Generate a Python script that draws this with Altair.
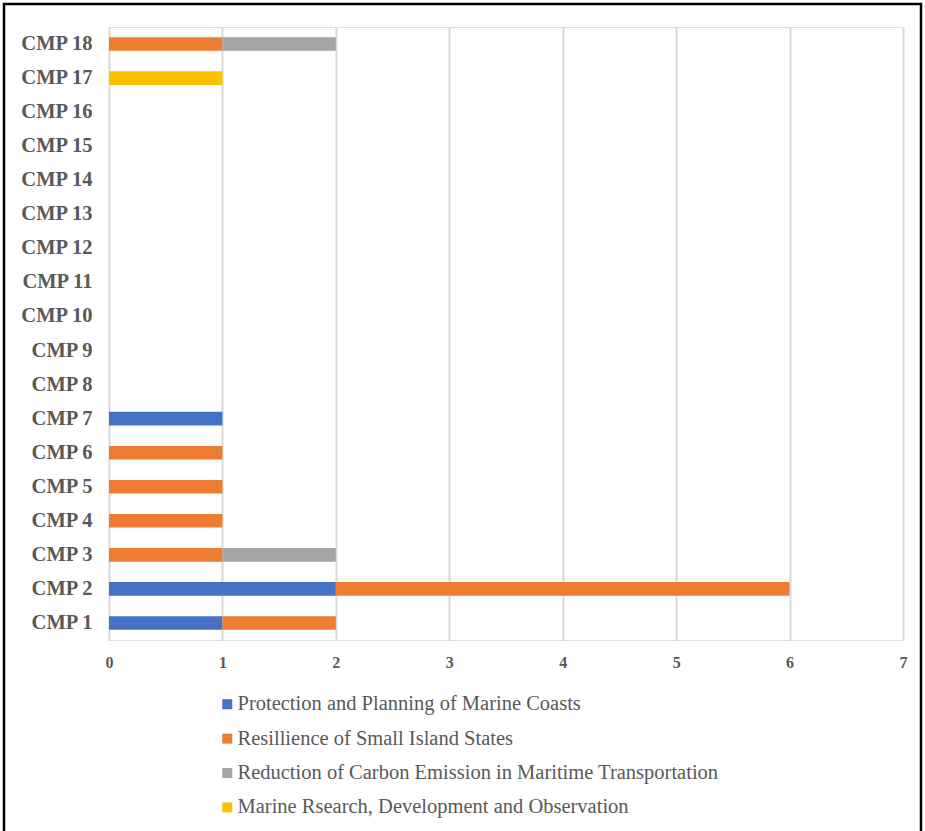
import altair as alt
import pandas as pd

categories = [f"CMP {i}" for i in range(1, 19)]
series = [
    "Protection and Planning of Marine Coasts",
    "Resillience of Small Island States",
    "Reduction of Carbon Emission in Maritime Transportation",
    "Marine Rsearch, Development and Observation",
]
colors = ["#4472C4", "#ED7D31", "#A5A5A5", "#FFC000"]

protection = [1, 2, 0, 0, 0, 0, 1, 0, 0, 0, 0, 0, 0, 0, 0, 0, 0, 0]
resilience = [1, 4, 1, 1, 1, 1, 0, 0, 0, 0, 0, 0, 0, 0, 0, 0, 0, 1]
carbon     = [0, 0, 1, 0, 0, 0, 0, 0, 0, 0, 0, 0, 0, 0, 0, 0, 0, 1]
research   = [0, 0, 0, 0, 0, 0, 0, 0, 0, 0, 0, 0, 0, 0, 0, 0, 1, 0]

rows = []
for s_idx, (name, vals) in enumerate(zip(series, [protection, resilience, carbon, research])):
    for c, v in zip(categories, vals):
        rows.append({"cat": c, "series": name, "value": v, "ord": s_idx})
df = pd.DataFrame(rows)

FONT = "Liberation Serif"
W, H = 794, 613

bars = alt.Chart(df).mark_bar().encode(
    y=alt.Y("cat:N", sort=None, scale=alt.Scale(domain=categories[::-1], paddingInner=0.6, paddingOuter=0.3),
            axis=alt.Axis(title=None, labelFont=FONT, labelFontSize=20.5, labelFontWeight="bold",
                          labelColor="#595959", ticks=False, domain=False, grid=False, labelPadding=17)),
    x=alt.X("value:Q", stack="zero", scale=alt.Scale(domain=[0, 7], nice=False),
            axis=alt.Axis(title=None, values=[0, 1, 2, 3, 4, 5, 6, 7], labelFont=FONT, labelFontSize=16,
                          labelFontWeight="bold", labelColor="#595959", ticks=False, domain=False,
                          labelFlush=False,
                          grid=True, gridColor="#D9D9D9", gridWidth=2, labelPadding=14, format="d")),
    color=alt.Color("series:N", scale=alt.Scale(domain=series, range=colors),
                    legend=alt.Legend(title=None, orient="none", legendX=108, legendY=667, direction="vertical",
                                      symbolType="square", symbolSize=100, labelFont=FONT, labelFontSize=20.5,
                                      labelColor="#595959", rowPadding=13.4, symbolStrokeWidth=0, labelOffset=0,
                                      labelLimit=700)),
    order=alt.Order("ord:Q"),
)

border = alt.Chart(pd.DataFrame({"k": [0]})).mark_rect(
    fill=None, stroke="black", strokeWidth=2.5, clip=False
).encode(
    x=alt.value(-105), x2=alt.value(812), y=alt.value(-23), y2=alt.value(812)
)

chart = alt.layer(bars, border).properties(
    width=W, height=H,
    autosize=alt.AutoSizeParams(type="none"),
    padding={"left": 109, "top": 27, "right": 22, "bottom": 191},
).configure_view(stroke=None).configure(background="white")

chart.save("out.html", embed_options={"renderer": "svg", "actions": False})
